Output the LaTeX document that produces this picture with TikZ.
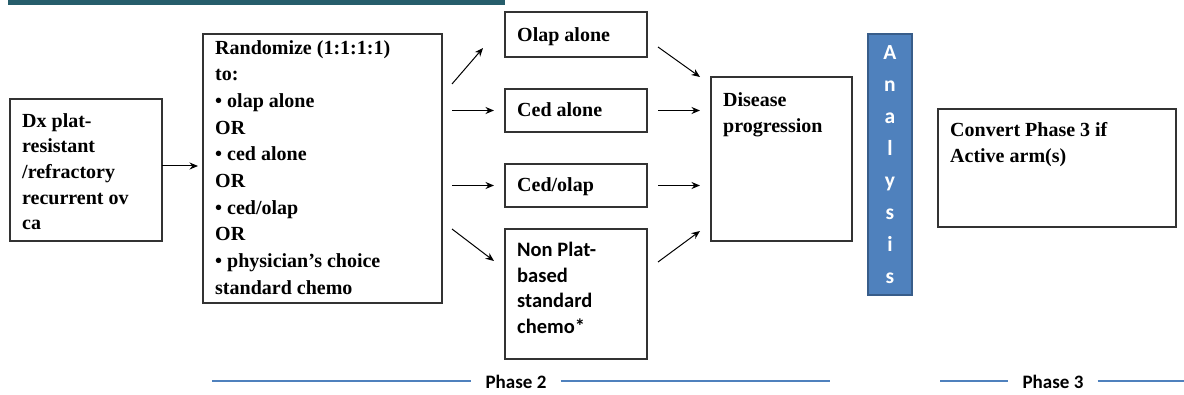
\documentclass[tikz,border=0pt]{standalone}
\usepackage{fontspec}
\setmainfont{Liberation Serif}
\newfontfamily\calfont{Carlito}
\usetikzlibrary{arrows.meta,calc}
\definecolor{topbar}{HTML}{265D6B}
\definecolor{anafill}{HTML}{4F81BD}
\definecolor{anadraw}{HTML}{385D8A}
\definecolor{phaseblue}{HTML}{4F81BD}
\tikzset{
  box/.style={draw=black!80, line width=1.2pt, inner sep=0pt, outer sep=0pt, anchor=north west},
  txt/.style={anchor=north west, inner sep=0pt, align=left, font=\bfseries\fontsize{20}{26}\selectfont},
  caltxt/.style={anchor=north west, inner sep=0pt, align=left, font=\calfont\bfseries\fontsize{20.5}{25.5}\selectfont},
  arr/.style={-{Stealth[length=8.5pt,width=7pt]}, line width=1pt, black},
  phaseline/.style={draw=phaseblue, line width=1.5pt},
  phasetxt/.style={font=\calfont\bfseries\fontsize{19}{22}\selectfont, inner sep=0pt}
}
\begin{document}
\begin{tikzpicture}[x=1pt,y=1pt]
\useasboundingbox (0,0) rectangle (1184,-395);
% top bar
\fill[topbar] (8,0) rectangle (505,-5);
% boxes
\node[box, minimum width=152pt, minimum height=142pt] (dx) at (10,-99) {};
\node[box, minimum width=239pt, minimum height=269pt] (rand) at (203,-34) {};
\node[box, minimum width=142pt, minimum height=45pt] (olap) at (505,-12) {};
\node[box, minimum width=142pt, minimum height=43pt] (ced) at (505,-89) {};
\node[box, minimum width=142pt, minimum height=43pt] (cedolap) at (505,-164) {};
\node[box, minimum width=142pt, minimum height=130pt] (nonplat) at (505,-229) {};
\node[box, minimum width=141pt, minimum height=164pt] (dis) at (711,-77) {};
\node[box, draw=anadraw, fill=anafill, line width=1.5pt, minimum width=44pt, minimum height=261pt] (ana) at (868,-34) {};
\node[box, minimum width=238pt, minimum height=118pt] (conv) at (938,-109) {};
% texts
\node[txt, font=\bfseries\fontsize{20}{25.7}\selectfont] (dxt) at (22,-113) {Dx plat-\\resistant\\/refractory\\recurrent ov\\ca};
\node[txt, font=\bfseries\fontsize{20}{26.7}\selectfont] (randt) at (215,-40) {Randomize (1:1:1:1)\\to:\\• olap alone\\OR\\• ced alone\\OR\\• ced/olap\\OR\\• physician’s choice\\standard chemo};
\node[txt] (olapt) at (517,-27) {Olap alone};
\node[txt] (cedt) at (517,-102) {Ced alone};
\node[txt] (cedolapt) at (517,-177) {Ced/olap};
\node[caltxt] (nonplatt) at (517,-242) {Non Plat-\\based\\standard\\chemo*};
\node[txt] (dist) at (723,-92) {Disease\\progression};
\node[txt] (convt) at (950,-122) {Convert Phase 3 if\\Active arm(s)};
\node[anchor=north, inner sep=0pt, align=center, text=white, font=\calfont\bfseries\fontsize{21.5}{32}\selectfont] (anat) at (890,-45) {A\\n\\a\\l\\y\\s\\i\\s};
% arrows
\draw[arr] ([yshift=4pt]dx.east) -- ([yshift=4pt,xshift=-5pt]dx.east -| rand.west);
\draw[arr] ($(rand.north east)+(10,-50)$) -- ($(olap.south west)+(-22,9)$);
\draw[arr] ([xshift=10pt]rand.east |- ced.west) -- ([xshift=-11pt]ced.west);
\draw[arr] ([xshift=10pt]rand.east |- cedolap.west) -- ([xshift=-11pt]cedolap.west);
\draw[arr] ($(rand.east)+(10,-60.5)$) -- ($(nonplat.north west)+(-11,-32)$);
\draw[arr] ($(olap.east)+(11,-12.5)$) -- ($(dis.north west)+(-11,0)$);
\draw[arr] ([xshift=11pt]ced.east) -- ([xshift=-11pt]ced.east -| dis.west);
\draw[arr] ([xshift=11pt]cedolap.east) -- ([xshift=-11pt]cedolap.east -| dis.west);
\draw[arr] ($(nonplat.north east)+(11,-33)$) -- ($(dis.south west)+(-11,10)$);
% phase labels
\node[phasetxt] (p2) at (516,-382) {Phase 2};
\node[phasetxt] (p3) at (1053,-382) {Phase 3};
\coordinate (p2l) at (212,-381);
\coordinate (p2r) at (830,-381);
\coordinate (p3l) at (940,-381);
\coordinate (p3r) at (1184,-381);
\draw[phaseline] (p2l) -- ([xshift=-14pt]p2.west |- p2l);
\draw[phaseline] ([xshift=14pt]p2.east |- p2r) -- (p2r);
\draw[phaseline] (p3l) -- ([xshift=-14pt]p3.west |- p3l);
\draw[phaseline] ([xshift=14pt]p3.east |- p3r) -- (p3r);
\end{tikzpicture}
\end{document}
